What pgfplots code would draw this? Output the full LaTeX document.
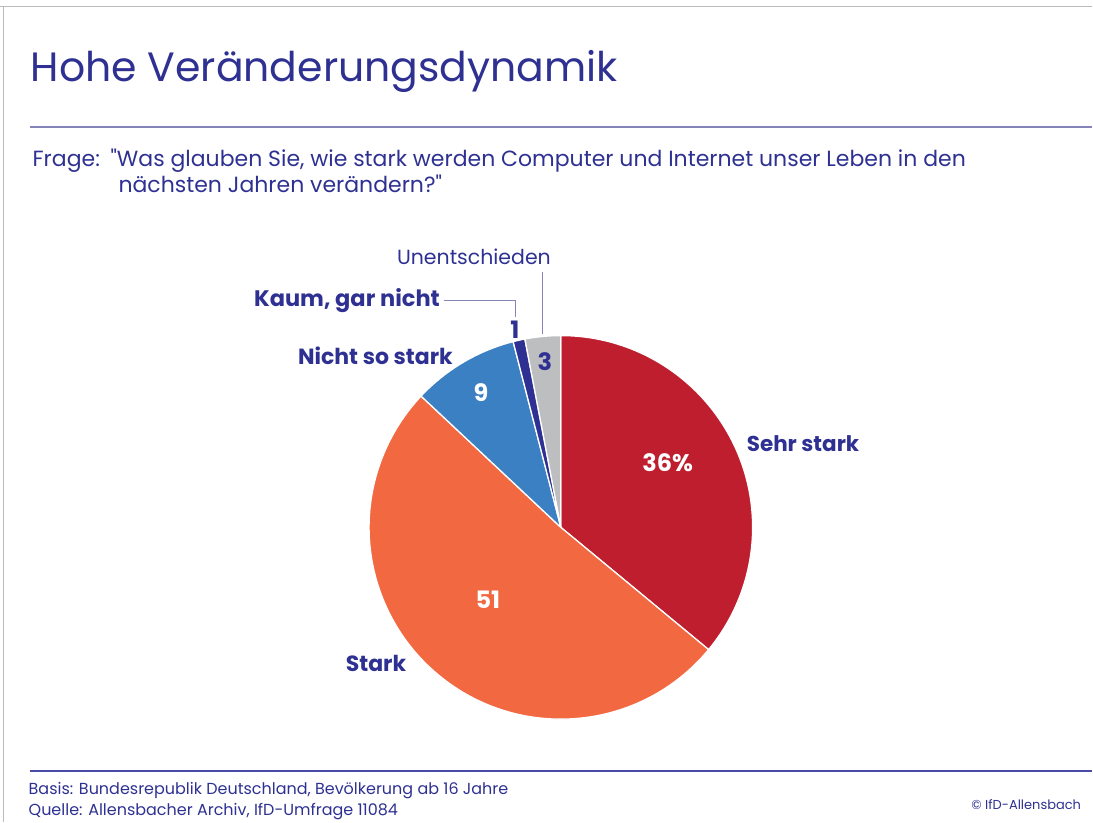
\documentclass[border=0pt]{standalone}
\usepackage{pgfplots}
\pgfplotsset{compat=1.18}
\usepackage{fontspec}
\setmainfont{Poppins}
\newfontfamily\qfont{Poppins}
\definecolor{txtblue}{HTML}{2E3192}
\definecolor{rulecol}{HTML}{8484B8}
\definecolor{footrule}{HTML}{4A4AA8}
\definecolor{sehrstark}{HTML}{BE1E2D}
\definecolor{stark}{HTML}{F26841}
\definecolor{nichtso}{HTML}{3B80C2}
\definecolor{kaum}{HTML}{2E3192}
\definecolor{unent}{HTML}{BCBEC0}
\definecolor{frame}{HTML}{BBBBBB}
\newcommand{\q}{{\qfont\symbol{34}}}
\begin{document}
\begin{tikzpicture}
\begin{axis}[
  width=1093pt, height=823pt, scale only axis,
  xmin=0, xmax=1093, ymin=0, ymax=823,
  hide axis, clip=false,
]
\path (axis cs:0,0) rectangle (axis cs:1093,823);
% frame
\draw[frame, line width=1pt] (axis cs:0,816) -- (axis cs:1093,816);
\draw[frame, line width=1pt] (axis cs:3,816) -- (axis cs:3,0);
% rules
\draw[rulecol, line width=1.6pt] (axis cs:30,696) -- (axis cs:1093,696);
\draw[footrule, line width=1.2pt] (axis cs:30,51) -- (axis cs:1093,51);
% title
\node[anchor=base west, text=txtblue, font=\fontsize{41}{48}\selectfont, inner sep=0pt] at (axis cs:30,741) {Hohe Veränderungsdynamik};
\node[anchor=base west, text=txtblue, font=\fontsize{22}{26}\selectfont, inner sep=0pt] at (axis cs:32,656) {Frage:};
\node[anchor=base west, text=txtblue, font=\fontsize{22}{26}\selectfont, inner sep=0pt] at (axis cs:110,656) {\q Was glauben Sie, wie stark werden Computer und Internet unser Leben in den};
\node[anchor=base west, text=txtblue, font=\fontsize{22}{26}\selectfont, inner sep=0pt] at (axis cs:118,630) {nächsten Jahren verändern?\q};
% footer
\node[anchor=base west, text=txtblue, font=\fontsize{16}{18}\selectfont, inner sep=0pt] at (axis cs:28,28) {Basis: Bundesrepublik Deutschland, Bevölkerung ab 16 Jahre};
\node[anchor=base west, text=txtblue, font=\fontsize{16}{18}\selectfont, inner sep=0pt] at (axis cs:28,7) {Quelle: Allensbacher Archiv, IfD-Umfrage 11084};
\node[anchor=base east, text=txtblue, font=\fontsize{13}{16}\selectfont, inner sep=0pt] at (axis cs:1082,13) {© IfD-Allensbach};
% pie
\pgfplotsextra{
  \xdef\cur{90}
  \foreach \v/\c in {36/sehrstark, 51/stark, 9/nichtso, 1/kaum, 3/unent} {
    \pgfmathsetmacro{\e}{\cur-3.6*\v}
    \fill[\c, draw=white, line width=1.3pt, line join=round] (axis cs:561,295) -- ++(\cur:192pt) arc[start angle=\cur, end angle=\e, radius=192pt] -- cycle;
    \xdef\cur{\e}
  }
}
% slice labels
\node[text=white, font=\fontsize{24}{28}\selectfont\bfseries] at (axis cs:668,360) {36\%};
\node[text=white, font=\fontsize{24}{28}\selectfont\bfseries] at (axis cs:488,223) {51};
\node[text=white, font=\fontsize{24}{28}\selectfont\bfseries] at (axis cs:481,430) {9};
\node[text=txtblue, font=\fontsize{24}{28}\selectfont\bfseries] at (axis cs:515,493) {1};
\node[text=txtblue, font=\fontsize{24}{28}\selectfont\bfseries] at (axis cs:545,461) {3};
% category labels
\node[text=txtblue, font=\fontsize{21.5}{26}\selectfont\bfseries, anchor=west, inner sep=0pt] at (axis cs:747,379) {Sehr stark};
\node[text=txtblue, font=\fontsize{22}{26}\selectfont\bfseries] at (axis cs:376,159) {Stark};
\node[text=txtblue, font=\fontsize{22}{26}\selectfont\bfseries, anchor=east, inner sep=0pt] at (axis cs:453,467) {Nicht so stark};
\node[text=txtblue, font=\fontsize{22.5}{26}\selectfont\bfseries, anchor=east, inner sep=0pt] at (axis cs:440,522) {Kaum, gar nicht};
\node[text=txtblue, font=\fontsize{20.5}{24}\selectfont] at (axis cs:474,566) {Unentschieden};
% leader lines
\draw[rulecol, line width=1pt] (axis cs:444,522) -- (axis cs:516,522) -- (axis cs:516,506);
\draw[rulecol, line width=1pt] (axis cs:543,551) -- (axis cs:543,489);
\end{axis}
\end{tikzpicture}
\end{document}
